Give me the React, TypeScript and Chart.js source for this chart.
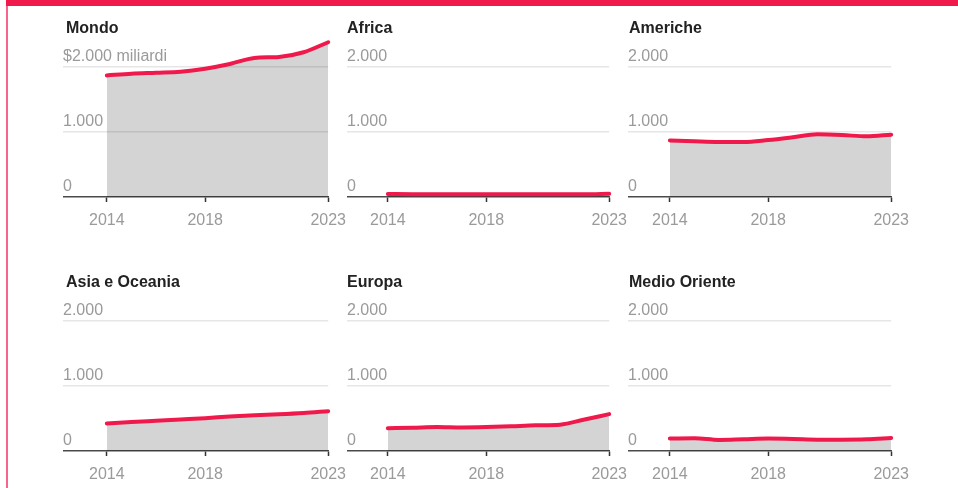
import React, { useEffect, useRef } from "react";
import { Chart, registerables } from "chart.js";

Chart.register(...registerables);

const YEARS = [2014, 2015, 2016, 2017, 2018, 2019, 2020, 2021, 2022, 2023];
const X_TICKS = [2014, 2018, 2023];
const Y_TICKS = [0, 1000, 2000];

const MONDO = [1871, 1897, 1912, 1928, 1974, 2046, 2139, 2155, 2227, 2381];
const AFRICA = [46, 44, 43, 41, 41, 42, 44, 41, 42, 50];
const AMERICHE = [871, 856, 845, 845, 876, 918, 964, 954, 933, 959];
const ASIA_OCEANIA = [423, 445, 465, 485, 505, 530, 550, 565, 585, 613];
const EUROPA = [350, 358, 370, 362, 368, 380, 395, 405, 485, 567];
const MEDIO_ORIENTE = [191, 196, 170, 180, 191, 186, 175, 175, 180, 201];

const TITLES = ["Mondo", "Africa", "Americhe", "Asia e Oceania", "Europa", "Medio Oriente"];
const SERIES = [MONDO, AFRICA, AMERICHE, ASIA_OCEANIA, EUROPA, MEDIO_ORIENTE];

const FONT = "'Liberation Sans', Arial, sans-serif";
const RED = "#f0194c";

const COL_LEFT = [63, 347, 628];
const COL_AREA_W = [266, 263, 264];
const TITLE_LEFT = [66, 347, 629];
const PX_PER_YEAR = 24.67;
const ROW_TOP = [20, 274];
const RIGHT_PAD = 26;
const TOP_PAD = 14.5;
const AREA_H = 162.5;
const XAXIS_H = 30;
const BOTTOM_EXTRA = 8;

function fmt(v: number) {
  return v === 0 ? "0" : v.toLocaleString("de-DE");
}

function Panel({ idx }: { idx: number }) {
  const ref = useRef<HTMLCanvasElement | null>(null);
  const col = idx % 3;
  const row = Math.floor(idx / 3);
  const areaW = COL_AREA_W[col];
  const W = areaW + RIGHT_PAD;
  const H = TOP_PAD + AREA_H + XAXIS_H + BOTTOM_EXTRA;
  useEffect(() => {
    if (!ref.current) return;
    const data = SERIES[idx];
    const chart = new Chart(ref.current, {
      type: "line",
      data: {
        datasets: [
          {
            data: YEARS.map((y, i) => ({ x: y, y: data[i] })),
            borderColor: RED,
            borderWidth: 4,
            borderCapStyle: "round",
            borderJoinStyle: "round",
            backgroundColor: "rgba(0,0,0,0.17)",
            fill: "origin",
            pointRadius: 0,
            cubicInterpolationMode: "monotone",
            clip: false,
          } as any,
        ],
      },
      options: {
        animation: false,
        responsive: false,
        maintainAspectRatio: false,
        layout: { padding: { left: 0, right: RIGHT_PAD, top: TOP_PAD, bottom: BOTTOM_EXTRA } },
        plugins: { legend: { display: false }, tooltip: { enabled: false }, title: { display: false } },
        scales: {
          x: {
            type: "linear",
            min: 2023 - areaW / PX_PER_YEAR,
            max: 2023,
            afterBuildTicks: (s: any) => {
              s.ticks = X_TICKS.map((v) => ({ value: v }));
            },
            afterFit: (s: any) => {
              s.height = XAXIS_H;
            },
            grid: {
              drawOnChartArea: false,
              drawTicks: true,
              tickLength: 5,
              tickColor: "#333",
              tickWidth: 1.5,
              color: "#333",
            },
            border: { display: true, color: "#4a4a4a", width: 1.5 },
            ticks: {
              autoSkip: false,
              maxRotation: 0,
              padding: 9,
              color: "#9a9a9a",
              font: { family: FONT, size: 16 },
              callback: (v: any) => String(v),
            },
          },
          y: {
            type: "linear",
            min: 0,
            max: 2500,
            afterBuildTicks: (s: any) => {
              s.ticks = Y_TICKS.map((v) => ({ value: v }));
            },
            afterFit: (s: any) => {
              s.width = 0;
            },
            grid: { drawTicks: false, color: (c: any) => (c.tick && c.tick.value === 0 ? "rgba(0,0,0,0)" : "#e6e6e6"), lineWidth: 1.5 },
            border: { display: false },
            ticks: {
              mirror: true,
              padding: 0,
              labelOffset: -10,
              color: "#9a9a9a",
              font: { family: FONT, size: 16 },
              callback: (v: any) => (idx === 0 && v === 2000 ? "$" + fmt(v) + " miliardi" : fmt(v)),
            },
          },
        },
      } as any,
    });
    return () => chart.destroy();
  }, [idx]);
  return (
    <>
      <canvas
        ref={ref}
        width={W}
        height={H}
        style={{ position: "absolute", left: COL_LEFT[col], top: ROW_TOP[row], width: W, height: H }}
      />
      <div
        style={{
          position: "absolute",
          left: TITLE_LEFT[col],
          top: ROW_TOP[row] - 0.5,
          fontFamily: FONT,
          fontWeight: 700,
          fontSize: 16,
          lineHeight: "16px",
          color: "#222",
          whiteSpace: "nowrap",
        }}
      >
        {TITLES[idx]}
      </div>
    </>
  );
}

export default function App() {
  return (
    <div style={{ position: "fixed", left: 0, top: 0, width: 958, height: 488, background: "#fff", overflow: "hidden" }}>
      <div style={{ position: "absolute", left: 6, top: 0, width: 952, height: 6, background: RED }} />
      <div style={{ position: "absolute", left: 6, top: 6, width: 2, height: 482, background: "#f6658a" }} />
      {[0, 1, 2, 3, 4, 5].map((i) => (
        <Panel key={i} idx={i} />
      ))}
    </div>
  );
}
